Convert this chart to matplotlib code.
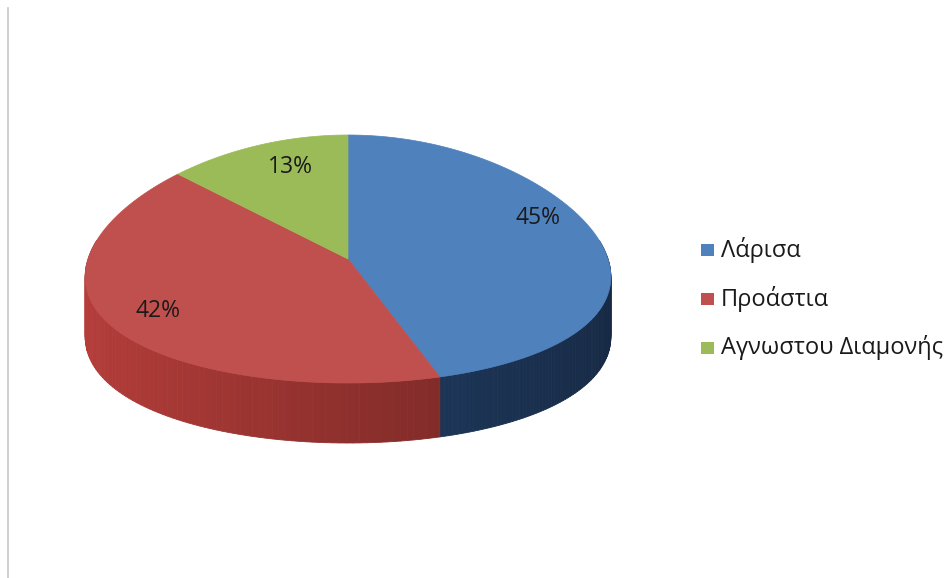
import numpy as np
import matplotlib.pyplot as plt
from matplotlib.colors import to_rgb
from matplotlib.patches import Polygon, Rectangle

labels = ['Λάρισα', 'Προάστια', 'Αγνωστου Διαμονής']
shares = [45, 42, 13]
top_colors = ['#4f81bd', '#c0504d', '#9bbb59']
side_colors = ['#1f3a5f', '#8e302d', '#5f7a2c']

# pie geometry in pixel space
cx, cy = 348, 259
a, b = 260, 124
depth = 60
persp = 0.15  # front of the disc drawn a little wider than the back


def rim(t):
    # t is measured clockwise from 12 o'clock
    u, v = np.sin(t), -np.cos(t)
    return cx + a * u * (1 + persp * v), cy + b * v


def shade(hex_color, f):
    return tuple(np.clip(np.array(to_rgb(hex_color)) * f, 0, 1))


fig = plt.figure(figsize=(9.47, 5.78), dpi=100)
ax = fig.add_axes([0, 0, 1, 1])
ax.set_xlim(0, 947)
ax.set_ylim(578, 0)
ax.axis('off')

# thin frame line on the left
ax.plot([8, 8], [8, 578], color='#c8c8c8', lw=1.2)

fracs = np.array(shares, dtype=float) / sum(shares)
edges = np.concatenate([[0], np.cumsum(fracs)]) * 2 * np.pi

# sides first: only the front half is visible
for i in range(len(shares)):
    t0, t1 = max(edges[i], np.pi / 2 - 0.15), min(edges[i + 1], 3 * np.pi / 2 + 0.15)
    if t1 <= t0:
        continue
    ts = np.linspace(t0, t1, 90)
    for j in range(len(ts) - 1):
        x0, y0 = rim(ts[j])
        x1, y1 = rim(ts[j + 1])
        tm = 0.5 * (ts[j] + ts[j + 1])
        # lighter toward the left, darker toward the right
        f = 1.0 + 0.28 * (-np.sin(tm))
        col = shade(side_colors[i], f)
        ax.add_patch(Polygon([(x0, y0), (x1, y1), (x1, y1 + depth), (x0, y0 + depth)],
                             closed=True, fc=col, ec=col, lw=0.6))

# top faces
for i in range(len(shares)):
    ts = np.linspace(edges[i], edges[i + 1], 200)
    xs, ys = rim(ts)
    pts = [(cx, cy)] + list(zip(xs, ys))
    ax.add_patch(Polygon(pts, closed=True, fc=top_colors[i], ec=top_colors[i], lw=0.5))

# percentage labels
label_pos = [(538, 218), (158, 311), (290, 167)]
for (x, y), s in zip(label_pos, shares):
    ax.text(x, y, f'{s}%', ha='center', va='center', fontsize=16.5,
            family='Open Sans', color='#1a1a1a')

# legend
for k, name in enumerate(labels):
    y = 250 + 49 * k
    ax.add_patch(Rectangle((701, y - 6), 13, 12, fc=top_colors[k], ec='none'))
    ax.text(721, y, name, ha='left', va='center', fontsize=17,
            family='Open Sans', color='#1a1a1a')

fig.savefig('out.png', dpi=100)
